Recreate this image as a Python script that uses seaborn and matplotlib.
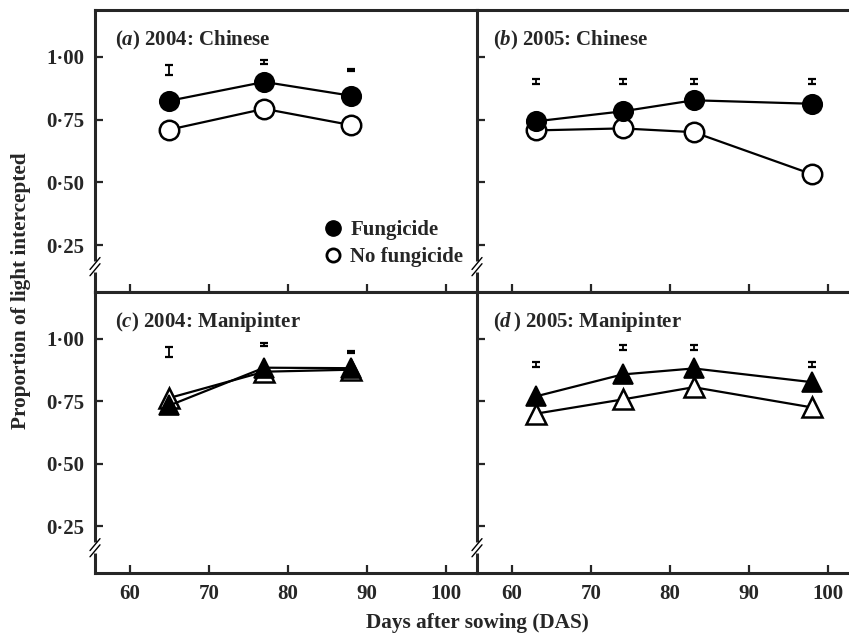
import matplotlib
matplotlib.use("Agg")
import matplotlib.pyplot as plt
from matplotlib.lines import Line2D
import seaborn as sns

# values
days_2004 = [65, 77, 88]
days_2005 = [63, 74, 83, 98]

chinese_2004_fung = [0.825, 0.900, 0.845]
chinese_2004_nofung = [0.710, 0.793, 0.728]
chinese_2005_fung = [0.743, 0.783, 0.827, 0.813]
chinese_2005_nofung = [0.707, 0.715, 0.700, 0.532]

mani_2004_fung = [0.733, 0.884, 0.882]
mani_2004_nofung = [0.763, 0.868, 0.876]
mani_2005_fung = [0.769, 0.857, 0.881, 0.826]
mani_2005_nofung = [0.700, 0.757, 0.806, 0.725]

# SED bars shown above the points
sed_2004_chinese_y = [0.948, 0.979, 0.948]
sed_2004_chinese = [0.020, 0.007, 0.005]
sed_2005_chinese_y = [0.900, 0.900, 0.900, 0.900]
sed_2005_chinese = [0.010, 0.010, 0.010, 0.010]
sed_2004_mani_y = [0.947, 0.977, 0.946]
sed_2004_mani = [0.020, 0.007, 0.005]
sed_2005_mani_y = [0.898, 0.966, 0.966, 0.897]
sed_2005_mani = [0.010, 0.010, 0.010, 0.010]

yticks = [0.25, 0.50, 0.75, 1.00]
ytick_labels = ["0·25", "0·50", "0·75", "1·00"]
xticks = [60, 70, 80, 90, 100]

panel_titles = [r"($\mathbfit{a}$) 2004: Chinese", r"($\mathbfit{b}$) 2005: Chinese",
                r"($\mathbfit{c}$) 2004: Manipinter", r"($\mathbfit{d}\,$) 2005: Manipinter"]

sns.set_style("ticks")
plt.rcParams["font.family"] = ["Liberation Serif", "DejaVu Serif"]
plt.rcParams["font.weight"] = "bold"
plt.rcParams["mathtext.fontset"] = "custom"
plt.rcParams["mathtext.rm"] = "Liberation Serif:bold"
plt.rcParams["mathtext.bf"] = "Liberation Serif:bold"
plt.rcParams["mathtext.it"] = "Liberation Serif:italic:bold"
plt.rcParams["mathtext.bfit"] = "Liberation Serif:italic:bold"

W, H = 849, 636
fig = plt.figure(figsize=(W / 100, H / 100), dpi=100)

pw, ph = 382 / W, 282 / H
positions = [
    (95 / W, 1 - 292 / H, pw, ph),
    (477 / W, 1 - 292 / H, pw, ph),
    (95 / W, 1 - 573 / H, pw, 281 / H),
    (477 / W, 1 - 573 / H, pw, 281 / H),
]
axes = [fig.add_axes(p) for p in positions]

panels = [
    (days_2004, chinese_2004_fung, chinese_2004_nofung, "o", sed_2004_chinese_y, sed_2004_chinese),
    (days_2005, chinese_2005_fung, chinese_2005_nofung, "o", sed_2005_chinese_y, sed_2005_chinese),
    (days_2004, mani_2004_fung, mani_2004_nofung, "^", sed_2004_mani_y, sed_2004_mani),
    (days_2005, mani_2005_fung, mani_2005_nofung, "^", sed_2005_mani_y, sed_2005_mani),
]

for i, (ax, (days, fung, nofung, mk, sed_y, sed)) in enumerate(zip(axes, panels)):
    ms = 14 if mk == "o" else 15
    sns.lineplot(x=days, y=nofung, ax=ax, color="black", linewidth=1.6, marker=mk,
                 markersize=ms, markerfacecolor="white", markeredgecolor="black",
                 markeredgewidth=1.8, zorder=3)
    sns.lineplot(x=days, y=fung, ax=ax, color="black", linewidth=1.6, marker=mk,
                 markersize=ms, markerfacecolor="black", markeredgecolor="black",
                 markeredgewidth=1.2, zorder=4)
    ax.errorbar(days, sed_y, yerr=sed, fmt="none", ecolor="black", elinewidth=1.3,
                capsize=3.2, capthick=1.6)

    ax.set_xlim(55.6, 103.9)
    ax.set_ylim(0.0635, 1.1865)
    ax.set_xticks(xticks)
    ax.set_yticks(yticks)
    ax.tick_params(direction="in", length=6, width=1.6, labelsize=15, pad=8)
    if i % 2 == 0:
        ax.set_yticklabels(ytick_labels)
    else:
        ax.set_yticklabels([])
    if i < 2:
        ax.set_xticklabels([])
    for sp in ax.spines.values():
        sp.set_linewidth(2.2)
    if i % 2 == 0:
        ax.spines["right"].set_visible(False)
    ax.set_xlabel("")
    ax.set_ylabel("")

    tx = 0.052 if i % 2 == 0 else 0.043
    ax.text(tx, 0.875, panel_titles[i], transform=ax.transAxes, fontsize=15,
            fontweight="bold", va="baseline", ha="left")

    # axis break on the left spine
    yb = 0.09
    ax.plot([0, 0], [yb - 0.02, yb + 0.02], transform=ax.transAxes, color="white",
            linewidth=3.5, clip_on=False, zorder=10, solid_capstyle="butt")
    dx, dy = 5 / 382, 6 / 282
    for off in (-0.011, 0.011):
        ax.plot([-dx, dx], [yb + off - dy, yb + off + dy], transform=ax.transAxes,
                color="black", linewidth=1.0, clip_on=False, zorder=11)

handles = [
    Line2D([], [], marker="o", linestyle="none", color="black", markersize=11),
    Line2D([], [], marker="o", linestyle="none", markerfacecolor="white",
           markeredgecolor="black", markeredgewidth=2.0, markersize=9.5),
]
axes[0].legend(handles, ["Fungicide", "No fungicide"], loc="upper left",
               bbox_to_anchor=(0.597, 0.255), frameon=False, handlelength=1.0,
               handletextpad=0.3, labelspacing=0.35, borderpad=0, borderaxespad=0,
               prop={"size": 15, "weight": "bold"})

fig.text(477 / W, 1 - 623 / H, "Days after sowing (DAS)", ha="center", va="center",
         fontsize=15.3, fontweight="bold")
fig.text(21 / W, 1 - 291 / H, "Proportion of light intercepted", ha="center",
         va="center", rotation=90, fontsize=15.3, fontweight="bold")

fig.savefig("out.png", dpi=100)
plt.close(fig)
